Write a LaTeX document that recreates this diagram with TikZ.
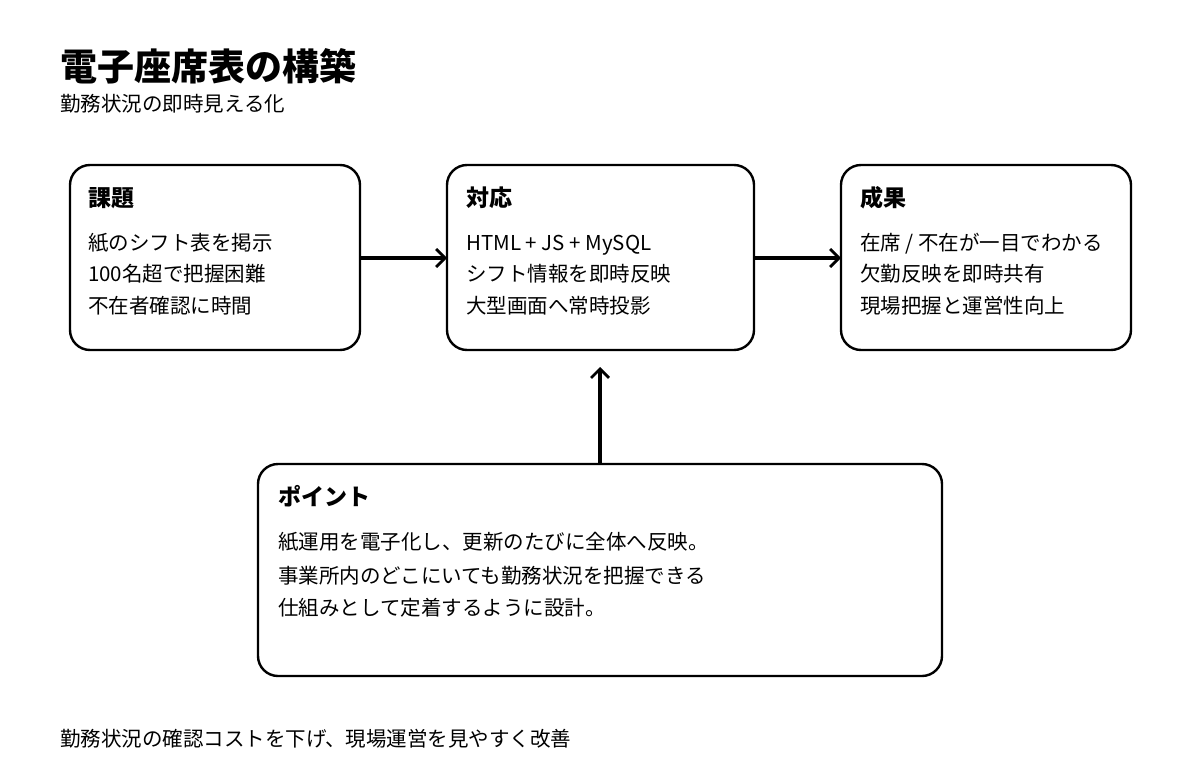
\documentclass[tikz,border=0pt]{standalone}
\usepackage{fontspec}
\setmainfont{Noto Sans CJK JP}
\usetikzlibrary{arrows.meta}
\tikzset{
  card/.style={draw=black, line width=2.4pt, rounded corners=20pt, fill=white},
  txt/.style={anchor=base west, inner sep=0pt, font=\fontsize{20.5}{24}\selectfont},
  head/.style={anchor=base west, inner sep=0pt, font=\fontsize{23}{27}\selectfont\bfseries},
  conn/.style={draw=black, line width=3.2pt, -{Straight Barb[length=9pt, width=18pt, line width=2.8pt]}}
}
\begin{document}
\begin{tikzpicture}[x=1pt, y=-1pt]
\useasboundingbox (0,0) rectangle (1200,771);
% title
\node[anchor=base west, inner sep=0pt, font=\fontsize{37}{42}\selectfont\bfseries] (title) at (60,80) {電子座席表の構築};
\node[txt] (subtitle) at (60,111) {勤務状況の即時見える化};
% boxes
\draw[card] (70,165) rectangle (360,350);
\coordinate (b1w) at (70,258); \coordinate (b1e) at (360,258);
\draw[card] (447,165) rectangle (754,350);
\coordinate (b2w) at (447,258); \coordinate (b2e) at (754,258);
\draw[card] (841,165) rectangle (1131,350);
\coordinate (b3w) at (841,258);
\draw[card] (258,464) rectangle (942,676);
\coordinate (b4n) at (600,464);
\coordinate (arrowtip) at (600,367);
% box 1
\node[head] (h1) at (88,206) {課題};
\node[txt] (t11) at (88,250) {紙のシフト表を掲示};
\node[txt] (t12) at (88,281) {100名超で把握困難};
\node[txt] (t13) at (88,313) {不在者確認に時間};
% box 2
\node[head] (h2) at (466,206) {対応};
\node[txt] (t21) at (466,250) {HTML + JS + MySQL};
\node[txt] (t22) at (466,281) {シフト情報を即時反映};
\node[txt] (t23) at (466,313) {大型画面へ常時投影};
% box 3
\node[head] (h3) at (860,206) {成果};
\node[txt] (t31) at (860,250) {在席 / 不在が一目でわかる};
\node[txt] (t32) at (860,281) {欠勤反映を即時共有};
\node[txt] (t33) at (860,313) {現場把握と運営性向上};
% box 4
\node[head] (h4) at (278,505) {ポイント};
\node[txt] (t41) at (278,549) {紙運用を電子化し、更新のたびに全体へ反映。};
\node[txt] (t42) at (278,583) {事業所内のどこにいても勤務状況を把握できる};
\node[txt] (t43) at (278,615) {仕組みとして定着するように設計。};
% footer
\node[txt] (footer) at (60,746) {勤務状況の確認コストを下げ、現場運営を見やすく改善};
% connectors
\draw[conn] (b1e) -- (b2w);
\draw[conn] (b2e) -- (b3w);
\draw[conn] (b4n) -- (arrowtip);
\end{tikzpicture}
\end{document}
